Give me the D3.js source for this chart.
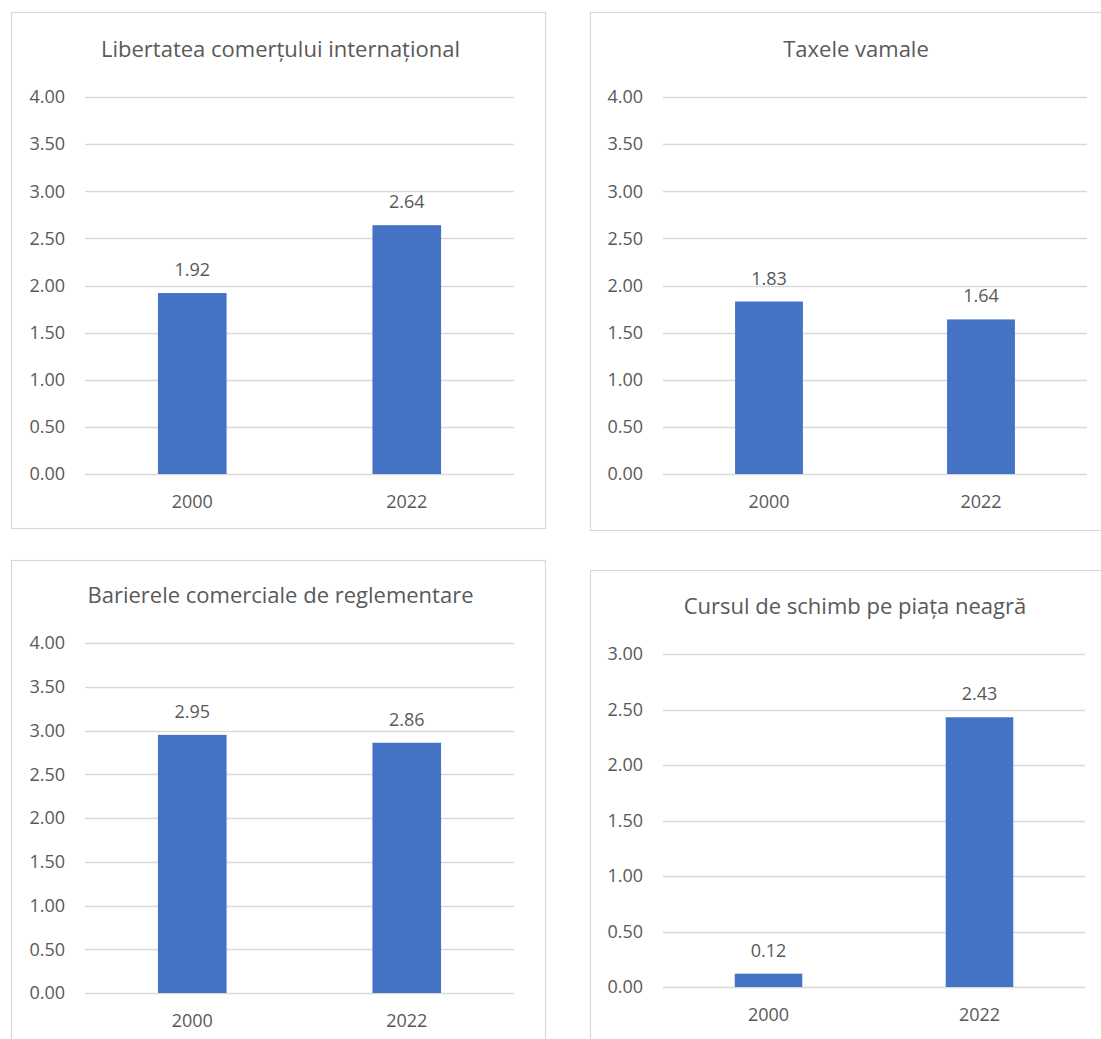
<!DOCTYPE html>
<html>
<head>
<meta charset="utf-8">
<script src="https://cdn.jsdelivr.net/npm/d3@7"></script>
<style>
  html, body { margin: 0; padding: 0; background: #ffffff; }
  svg { display: block; }
  text { font-family: "Open Sans", "Noto Sans", sans-serif; fill: #595959; }
</style>
</head>
<body>
<svg id="chart" width="1101" height="1039"></svg>
<script>
// ---- data ----
const categories = ["2000", "2022"];
const titles = [
  "Libertatea comerțului internațional",
  "Taxele vamale",
  "Barierele comerciale de reglementare",
  "Cursul de schimb pe piața neagră"
];
const valuesLibertatea = [1.92, 2.64];
const valuesTaxe = [1.83, 1.64];
const valuesBariere = [2.95, 2.86];
const valuesCurs = [0.12, 2.43];
const ticks4 = [0, 0.5, 1, 1.5, 2, 2.5, 3, 3.5, 4];
const ticks3 = [0, 0.5, 1, 1.5, 2, 2.5, 3];

const seriesList = [valuesLibertatea, valuesTaxe, valuesBariere, valuesCurs];
const tickList = [ticks4, ticks4, ticks4, ticks3];

// ---- layout (positions only) ----
const layouts = [
  { box: [11.5, 12.5, 534, 516], plot: [85, 97, 514, 474] },
  { box: [590.5, 12.5, 520, 518], plot: [663, 97, 1087, 474] },
  { box: [11.5, 560.5, 534, 500], plot: [85, 643, 514, 993] },
  { box: [590.5, 570.5, 520, 500], plot: [663, 654, 1085, 987] }
];

const svg = d3.select("#chart");

layouts.forEach((L, i) => {
  const g = svg.append("g");
  const vals = seriesList[i];
  const tks = tickList[i];
  const [x0, y0, x1, y1] = L.plot;

  g.append("rect")
    .attr("x", L.box[0]).attr("y", L.box[1])
    .attr("width", L.box[2]).attr("height", L.box[3])
    .attr("fill", "#ffffff").attr("stroke", "#d9d9d9").attr("stroke-width", 1.2);

  const x = d3.scaleBand().domain(categories).range([x0, x1]).paddingInner(0.68).paddingOuter(0.34);
  const y = d3.scaleLinear().domain([0, d3.max(tks)]).range([y1, y0]);

  // gridlines
  g.append("g").selectAll("line").data(tks).join("line")
    .attr("x1", x0).attr("x2", x1)
    .attr("y1", d => Math.round(y(d)) + 0.5).attr("y2", d => Math.round(y(d)) + 0.5)
    .attr("stroke", "#d9d9d9").attr("stroke-width", 1.3);

  // y axis labels
  const yAxis = d3.axisLeft(y).tickValues(tks).tickFormat(d3.format(".2f")).tickSize(0).tickPadding(20);
  const ya = g.append("g").attr("transform", `translate(${x0},0)`).call(yAxis);
  ya.select(".domain").remove();
  ya.selectAll("text").attr("font-size", 18).attr("fill", "#595959")
    .style("font-family", '"Open Sans", sans-serif');

  // bars
  g.append("g").selectAll("rect").data(vals).join("rect")
    .attr("x", (d, j) => x(categories[j]))
    .attr("width", x.bandwidth())
    .attr("y", d => y(d))
    .attr("height", d => y(0) - y(d))
    .attr("fill", "#4472c4");

  // x axis labels
  const xAxis = d3.axisBottom(x).tickSize(0).tickPadding(21);
  const xa = g.append("g").attr("transform", `translate(0,${y1})`).call(xAxis);
  xa.select(".domain").remove();
  xa.selectAll("text").attr("font-size", 18).attr("fill", "#595959")
    .style("font-family", '"Open Sans", sans-serif');

  // value labels
  g.append("g").selectAll("text").data(vals).join("text")
    .attr("x", (d, j) => x(categories[j]) + x.bandwidth() / 2)
    .attr("y", d => y(d) - 17)
    .attr("text-anchor", "middle")
    .attr("font-size", 18)
    .text(d => d3.format(".2f")(d));

  // title
  g.append("text")
    .attr("x", (x0 + x1) / 2 - 19)
    .attr("y", y0 - 40)
    .attr("text-anchor", "middle")
    .attr("font-size", 22)
    .text(titles[i]);
});
</script>
</body>
</html>
